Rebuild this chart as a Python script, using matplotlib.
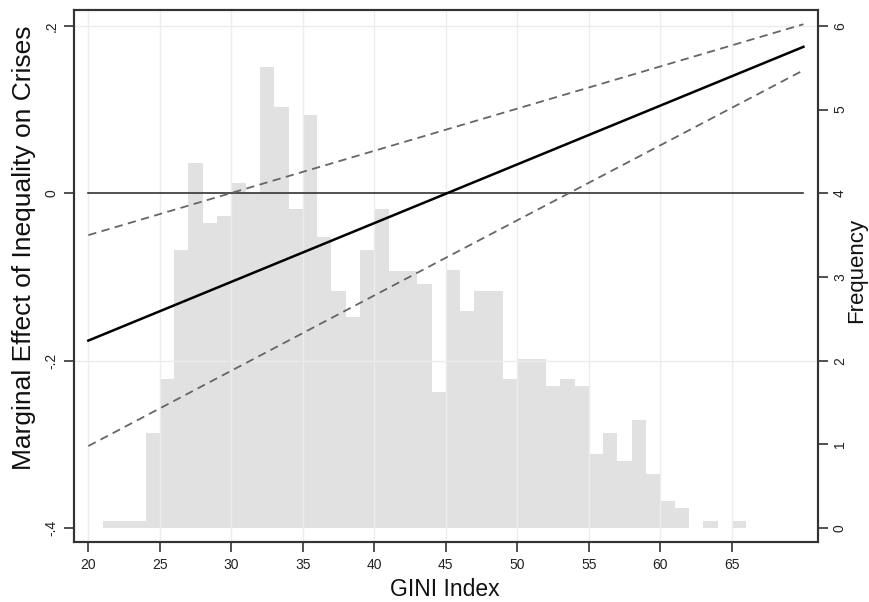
import matplotlib
matplotlib.use("Agg")
import matplotlib.pyplot as plt

plt.rcParams['font.family'] = ['Liberation Sans', 'DejaVu Sans']

# ---- data ----
gini_line = [20, 45, 70]
marginal_effect = [-0.176, -0.0005, 0.175]
ci_upper = [-0.050, 0.076, 0.202]
ci_lower = [-0.302, -0.077, 0.147]

bin_left = list(range(21, 66))
bin_freq = [0.083, 0.083, 0.083, 1.13, 1.78, 3.32, 4.36, 3.64, 3.73, 4.12,
            4.0, 5.51, 5.03, 3.81, 4.94, 3.48, 2.83, 2.52, 3.32, 3.81,
            3.07, 3.07, 2.92, 1.62, 3.08, 2.59, 2.83, 2.83, 1.78, 2.02,
            2.02, 1.70, 1.78, 1.70, 0.88, 1.13, 0.80, 1.29, 0.64, 0.32,
            0.24, 0.0, 0.083, 0.0, 0.083]

x_ticks = [20, 25, 30, 35, 40, 45, 50, 55, 60, 65]
y_ticks = [-0.4, -0.2, 0.0, 0.2]
y_ticklabels = ['-.4', '-.2', '0', '.2']
f_ticks = [0, 1, 2, 3, 4, 5, 6]

# ---- figure ----
W, H = 870, 602
fig = plt.figure(figsize=(W / 100, H / 100), dpi=100)
ax1 = fig.add_axes([0.0851, 0.0992, 0.9399 - 0.0851, 0.9842 - 0.0992])
ax2 = ax1.twinx()

frame_col = '#333333'

# histogram on the frequency axis (behind)
ax2.bar(bin_left, bin_freq, width=1.0, align='edge', color='#e1e1e1',
        edgecolor='none', linewidth=0, zorder=1)
ax2.set_ylim(-0.171, 6.195)
ax2.set_yticks(f_ticks)
ax2.set_yticklabels([str(t) for t in f_ticks], rotation=90, va='center')

# marginal effects axis on top
ax1.set_zorder(ax2.get_zorder() + 1)
ax1.patch.set_visible(False)

for xt in x_ticks:
    ax1.axvline(xt, color='#ececec', lw=1.0, zorder=1)
for yt in [0.2, -0.2]:
    ax1.axhline(yt, color='#ececec', lw=1.0, zorder=1)

ax1.plot([gini_line[0], gini_line[-1]], [0, 0], color='#333333', lw=1.2, zorder=2)
ax1.plot(gini_line, ci_upper, color='#666666', lw=1.3,
         linestyle=(0, (4.6, 3.0)), zorder=3)
ax1.plot(gini_line, ci_lower, color='#666666', lw=1.3,
         linestyle=(0, (4.6, 3.0)), zorder=3)
ax1.plot(gini_line, marginal_effect, color='black', lw=1.8, zorder=4)

ax1.set_xlim(19.0, 71.0)
ax1.set_ylim(-0.417, 0.2196)
ax1.set_xticks(x_ticks)
ax1.set_xticklabels([str(t) for t in x_ticks])
ax1.set_yticks(y_ticks)
ax1.set_yticklabels(y_ticklabels, rotation=90, va='center')

for ax in (ax1, ax2):
    ax.tick_params(direction='out', length=7, width=1.2, color=frame_col,
                   labelsize=10, labelcolor='#222222', pad=4)
    for s in ax.spines.values():
        s.set_color(frame_col)
        s.set_linewidth(1.5)

# axis titles
fig.text(445 / W, 1 - 596 / H, 'GINI Index', fontsize=16.5,
         ha='center', va='baseline', color='#111111')
fig.text(24 / W, 1 - 248 / H, 'Marginal Effect of Inequality on Crises',
         fontsize=19, rotation=90, ha='center', va='center', color='#111111')
fig.text(857 / W, 1 - 270 / H, 'Frequency', fontsize=16,
         rotation=90, ha='center', va='center', color='#111111')

fig.savefig('out.png', dpi=100)
